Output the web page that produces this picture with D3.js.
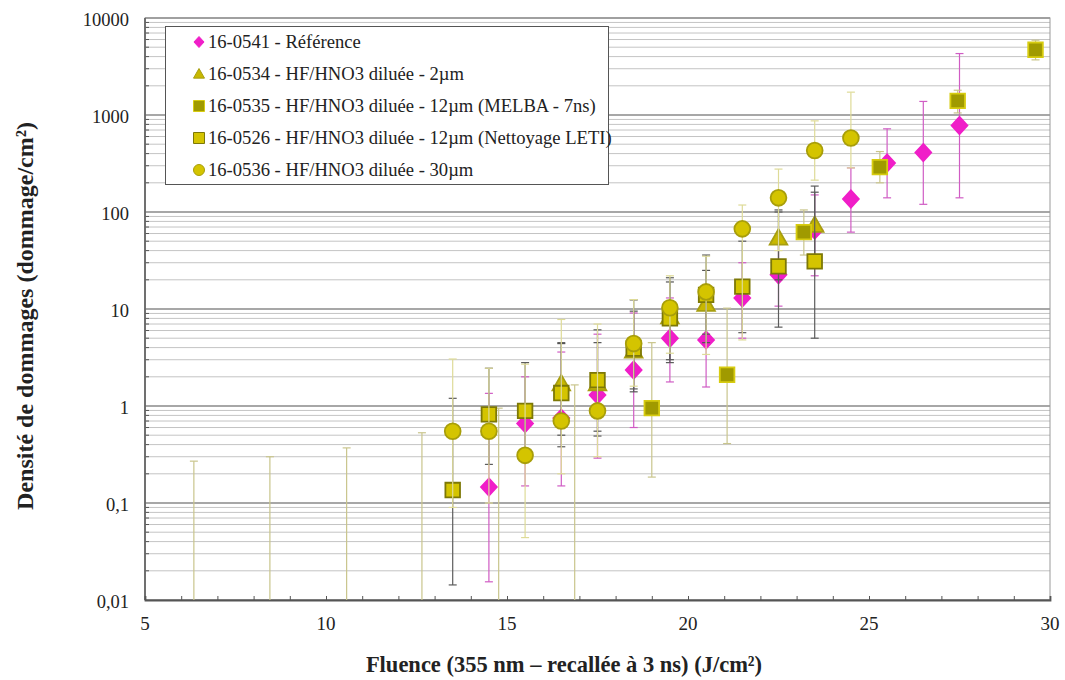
<!DOCTYPE html>
<html>
<head>
<meta charset="utf-8">
<script src="https://cdn.jsdelivr.net/npm/d3@7"></script>
<style>
  html, body { margin: 0; padding: 0; background: #fff; }
  svg { display: block; }
  text { font-family: "Liberation Serif", "DejaVu Serif", serif; }
</style>
</head>
<body>
<svg id="chart" width="1065" height="680"></svg>
<script>
// ---------------- DATA ----------------
const xTickValues = [5, 10, 15, 20, 25, 30];
const yTickValues = [0.01, 0.1, 1, 10, 100, 1000, 10000];
const yTickLabels = ["0,01", "0,1", "1", "10", "100", "1000", "10000"];
const xTitle = "Fluence (355 nm \u2013 recall\u00e9e \u00e0 3 ns) (J/cm\u00b2)";
const yTitle = "Densit\u00e9 de dommages (dommage/cm\u00b2)";

const seriesNames = [
  "16-0541 - R\u00e9f\u00e9rence",
  "16-0534 - HF/HNO3 dilu\u00e9e - 2\u00b5m",
  "16-0535 - HF/HNO3 dilu\u00e9e - 12\u00b5m (MELBA - 7ns)",
  "16-0526 - HF/HNO3 dilu\u00e9e - 12\u00b5m (Nettoyage LETI)",
  "16-0536 - HF/HNO3 dilu\u00e9e - 30\u00b5m"
];

// 16-0541 - Référence
const refX  = [14.5, 15.5, 16.5, 17.5, 18.5, 19.5, 20.5, 21.5, 22.5, 23.5, 24.5, 25.5, 26.5, 27.5];
const refY  = [0.146, 0.66, 0.75, 1.3, 2.35, 5.0, 4.8, 13, 22.5, 65, 136, 320, 410, 780];
const refLo = [0.0154, 0.15, 0.15, 0.29, 0.6, 1.77, 1.57, 5.0, 10.7, 22, 62, 140, 120, 140];
const refHi = [1.35, 2.0, 3.6, 5.5, 9.1, 13, 12, 30, 48, 150, 285, 720, 1380, 4300];

// 16-0534 - 2µm
const t2X  = [16.5, 17.5, 18.5, 19.5, 20.5, 22.5, 23.5];
const t2Y  = [1.7, 1.7, 3.7, 8.3, 11.2, 54, 73];
const t2Lo = [0.5, 0.55, 1.4, 3.0, 4.5, 20, 28];
const t2Hi = [4.4, 4.5, 9.5, 19, 25, 105, 160];

// 16-0535 - 12µm (MELBA - 7ns) ; null = zero value (only error bar visible)
const melX  = [6.35, 8.45, 10.57, 12.65, 14.77, 16.87, 19.0, 21.08, 23.2, 25.3, 27.45, 29.6];
const melY  = [null, null, null, null, null, null, 0.95, 2.1, 62, 290, 1400, 4700];
const melLo = [0.001, 0.001, 0.001, 0.001, 0.001, 0.001, 0.185, 0.41, 36, 200, 1050, 3700];
const melHi = [0.27, 0.30, 0.37, 0.53, 0.95, 1.65, 4.5, 10.2, 105, 420, 1800, 5900];

// 16-0526 - 12µm (Nettoyage LETI)
const letX  = [13.5, 14.5, 15.5, 16.5, 17.5, 18.5, 19.5, 20.5, 21.5, 22.5, 23.5];
const letY  = [0.136, 0.82, 0.89, 1.36, 1.85, 3.9, 8.0, 14, 17, 27.5, 31];
const letLo = [0.0143, 0.25, 0.3, 0.38, 0.49, 1.5, 2.8, 5.5, 5.7, 6.5, 5.0];
const letHi = [1.2, 2.45, 2.8, 4.5, 6.1, 12.4, 21, 36, 50, 100, 185];

// 16-0536 - 30µm
const cirX  = [13.5, 14.5, 15.5, 16.5, 17.5, 18.5, 19.5, 20.5, 21.5, 22.5, 23.5, 24.5];
const cirY  = [0.55, 0.55, 0.31, 0.70, 0.89, 4.4, 10.3, 15, 67, 140, 430, 580];
const cirLo = [0.09, 0.1, 0.044, 0.2, 0.3, 1.6, 3.5, 3.4, 4.8, 40, 213, 285];
const cirHi = [3.05, 2.45, 2.7, 7.8, 7.0, 12.5, 22, 35, 118, 277, 870, 1720];

// ---------------- STYLE ----------------
const seriesStyle = [
  {shape: "diamond",  fill: "#f01ec8", stroke: "#f01ec8", err: "#d05cc4", size: 8.6},
  {shape: "triangle", fill: "#c8b800", stroke: "#a79e10", err: "#555555", size: 8.8},
  {shape: "square",   fill: "#a09a00", stroke: "#d7cc10", err: "#c9c58c", size: 7.3},
  {shape: "square",   fill: "#d4c400", stroke: "#7d7806", err: "#5c5c5c", size: 7.3},
  {shape: "circle",   fill: "#d4c400", stroke: "#a89e0a", err: "#dedb98", size: 7.9}
];

const seriesData = [
  {x: refX, y: refY, lo: refLo, hi: refHi},
  {x: t2X,  y: t2Y,  lo: t2Lo,  hi: t2Hi},
  {x: melX, y: melY, lo: melLo, hi: melHi},
  {x: letX, y: letY, lo: letLo, hi: letHi},
  {x: cirX, y: cirY, lo: cirLo, hi: cirHi}
];

// ---------------- CHART ----------------
const svg = d3.select("#chart");
const L = 145, R = 1050, T = 18, B = 600;
const x = d3.scaleLinear().domain([5, 30]).range([L, R]);
const y = d3.scaleLog().domain([0.01, 10000]).range([B, T]);

// minor gridlines
const minorVals = [];
for (let e = -2; e < 4; e++) for (let m = 2; m <= 9; m++) minorVals.push(m * Math.pow(10, e));
svg.append("g").selectAll("line").data(minorVals).join("line")
  .attr("x1", L).attr("x2", R)
  .attr("y1", d => y(d)).attr("y2", d => y(d))
  .attr("stroke", "#c4c4c4").attr("stroke-width", 1);
svg.append("g").selectAll("line").data(yTickValues).join("line")
  .attr("x1", L).attr("x2", R)
  .attr("y1", d => y(d)).attr("y2", d => y(d))
  .attr("stroke", "#8a8a8a").attr("stroke-width", 1.5);

// plot frame (top/right)
svg.append("rect").attr("x", L).attr("y", T).attr("width", R - L).attr("height", B - T)
  .attr("fill", "none").attr("stroke", "#9a9a9a").attr("stroke-width", 1);

// left axis ticks (minor) and line
svg.append("g").selectAll("line").data(minorVals).join("line")
  .attr("x1", L).attr("x2", L + 4)
  .attr("y1", d => y(d)).attr("y2", d => y(d))
  .attr("stroke", "#555").attr("stroke-width", 1);
svg.append("line").attr("x1", L).attr("x2", L).attr("y1", T).attr("y2", B)
  .attr("stroke", "#666").attr("stroke-width", 1.8);

// x axis with ticks every unit (pointing up)
const xAxis = d3.axisBottom(x).tickValues(d3.range(5, 31, 1)).tickSize(-4).tickFormat("");
const gx = svg.append("g").attr("transform", `translate(0,${B})`).call(xAxis);
gx.select(".domain").attr("stroke", "#555").attr("stroke-width", 1.8);
gx.selectAll(".tick line").attr("stroke", "#555");

// tick labels
svg.append("g").selectAll("text").data(xTickValues).join("text")
  .attr("x", d => x(d)).attr("y", 630)
  .attr("text-anchor", "middle").attr("font-size", 19).attr("fill", "#222")
  .text(d => d);
svg.append("g").selectAll("text").data(yTickValues).join("text")
  .attr("x", 129).attr("y", d => y(d) + 8)
  .attr("text-anchor", "end").attr("font-size", 18.5).attr("fill", "#222")
  .text((d, i) => yTickLabels[i]);

// axis titles
svg.append("text").attr("x", 564).attr("y", 672).attr("text-anchor", "middle")
  .attr("font-size", 22.5).attr("font-weight", "bold").attr("fill", "#222").text(xTitle);
svg.append("text").attr("transform", "translate(33,316) rotate(-90)").attr("text-anchor", "middle")
  .attr("font-size", 24).attr("font-weight", "bold").attr("fill", "#222").text(yTitle);

// symbols
function shapePath(shape, s) {
  if (shape === "diamond") return `M0,${-s}L${s * 0.92},0L0,${s}L${-s * 0.92},0Z`;
  if (shape === "square") return `M${-s},${-s}H${s}V${s}H${-s}Z`;
  if (shape === "triangle") return `M0,${-s}L${s},${s * 0.75}L${-s},${s * 0.75}Z`;
  return d3.arc()({innerRadius: 0, outerRadius: s, startAngle: 0, endAngle: 2 * Math.PI});
}

const plot = svg.append("g");
const clipId = "plotclip";
svg.append("clipPath").attr("id", clipId).append("rect")
  .attr("x", L).attr("y", T - 10).attr("width", R - L + 10).attr("height", B - T + 10);
plot.attr("clip-path", `url(#${clipId})`);

seriesData.forEach((sd, si) => {
  const st = seriesStyle[si];
  const pts = sd.x.map((xv, i) => ({x: xv, y: sd.y[i], lo: sd.lo[i], hi: sd.hi[i]}));
  const g = plot.append("g");
  const eb = g.append("g").attr("stroke", st.err).attr("stroke-width", 1.2);
  eb.selectAll("line.v").data(pts).join("line").attr("class", "v")
    .attr("x1", d => x(d.x)).attr("x2", d => x(d.x))
    .attr("y1", d => Math.min(y(Math.max(d.lo, 0.0005)), B)).attr("y2", d => y(d.hi));
  eb.selectAll("line.h").data(pts).join("line").attr("class", "h")
    .attr("x1", d => x(d.x) - 4).attr("x2", d => x(d.x) + 4)
    .attr("y1", d => y(d.hi)).attr("y2", d => y(d.hi));
  eb.selectAll("line.l").data(pts.filter(d => d.lo >= 0.01)).join("line").attr("class", "l")
    .attr("x1", d => x(d.x) - 4).attr("x2", d => x(d.x) + 4)
    .attr("y1", d => y(d.lo)).attr("y2", d => y(d.lo));
  g.selectAll("path").data(pts.filter(d => d.y != null)).join("path")
    .attr("transform", d => `translate(${x(d.x)},${y(d.y)})`)
    .attr("d", shapePath(st.shape, st.size))
    .attr("fill", st.fill).attr("stroke", st.stroke).attr("stroke-width", 1.8);
});

// legend
const lg = svg.append("g");
lg.append("rect").attr("x", 165.5).attr("y", 26.5).attr("width", 443).attr("height", 158)
  .attr("fill", "#fff").attr("stroke", "#555").attr("stroke-width", 1);
seriesNames.forEach((name, i) => {
  const cy = 42 + i * 32;
  const st = seriesStyle[i];
  lg.append("path").attr("transform", `translate(199,${cy})`)
    .attr("d", shapePath(st.shape, 5.5))
    .attr("fill", st.fill).attr("stroke", st.stroke).attr("stroke-width", 1);
  lg.append("text").attr("x", 208).attr("y", cy + 6).attr("font-size", 18.6).attr("fill", "#222")
    .text(name);
});
</script>
</body>
</html>
